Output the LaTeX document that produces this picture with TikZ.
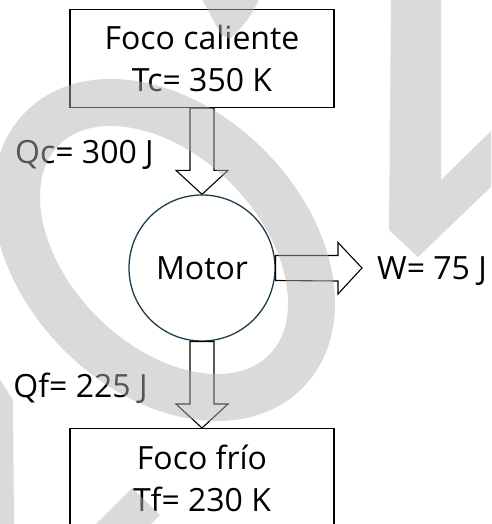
\documentclass[tikz,border=0pt]{standalone}
\usepackage{fontspec}
\setmainfont{Open Sans}
\usetikzlibrary{calc}
\definecolor{circ}{HTML}{1F3A4A}
\definecolor{wmgray}{RGB}{178,178,178}
\tikzset{
  big/.style={font=\fontsize{32}{42}\selectfont},
  box/.style={draw=black, line width=1.3pt, minimum width=264pt, inner sep=0pt},
  txt/.style={big, inner sep=0pt, align=center},
  lbl/.style={big, inner sep=0pt},
  motorc/.style={circle, draw=circ, line width=1.3pt, minimum size=146pt, inner sep=0pt, big},
  blockarrow/.style={draw=black, line width=1.1pt, line join=miter},
  wmline/.style={draw=wmgray, draw opacity=0.48},
  wm/.style={fill=wmgray, fill opacity=0.48, draw=none},
}
\begin{document}
\begin{tikzpicture}[x=1pt,y=-1pt]
\useasboundingbox (0,0) rectangle (491,524);
\clip (0,0) rectangle (491,524);
% boxes and engine
\node[box, minimum height=98pt, txt] (hot) at (202,58.5) {Foco caliente\\Tc= 350 K};
\node[motorc] (motor) at (202,268) {Motor};
\node[box, minimum height=130pt, anchor=north] (cold) at (202,428) {};
\node[txt, anchor=north] (coldtxt) at (202,444.8) {Foco frío\\Tf= 230 K};
\coordinate (wtip) at (362,268);
% block arrows
\draw[blockarrow] ($(hot.south)+(-12,0)$) -- ($(motor.north)+(-12,-24)$) -- ++(-14,0) -- (motor.north)
  -- ($(motor.north)+(26,-24)$) -- ++(-14,0) -- ($(hot.south)+(12,0)$) -- cycle;
\draw[blockarrow] ($(motor.south)+(-12,0)$) -- ($(cold.north)+(-12,-24)$) -- ++(-14,0) -- (cold.north)
  -- ($(cold.north)+(26,-24)$) -- ++(-14,0) -- ($(motor.south)+(12,0)$) -- cycle;
\draw[blockarrow] ($(motor.east)+(0,-12.5)$) -- ($(wtip)+(-24,-12.5)$) -- ++(0,-13) -- (wtip)
  -- ($(wtip)+(-24,26)$) -- ++(0,-13) -- ($(motor.east)+(0,12.5)$) -- cycle;
% labels
\node[lbl, anchor=base] (qc) at (84.5,163.3) {Qc= 300 J};
\node[lbl, anchor=base] (qf) at (80.5,397.5) {Qf= 225 J};
\node[lbl, anchor=base] (w) at (432,279) {W= 75 J};
% watermark overlay
\draw[wmline, line width=47pt, rotate around={-45:(164,250)}] (164,250) ellipse [x radius=172, y radius=118];
\fill[wm] (202,-1) -- (221,35) -- (230,39) .. controls (245,25) and (255,10) .. (259,-1) -- cycle;
\fill[wm] (391,-1) -- (389,230) -- (418,257) -- (492,186) -- (492,130) -- (441,180) -- (441,-1) -- cycle;
\fill[wm] (-1,378) -- (13,400) -- (14,525) -- (-1,525) -- cycle;
\fill[wm] (132,488) -- (160,515) -- (150,525) -- (95,525) -- cycle;
\end{tikzpicture}
\end{document}
